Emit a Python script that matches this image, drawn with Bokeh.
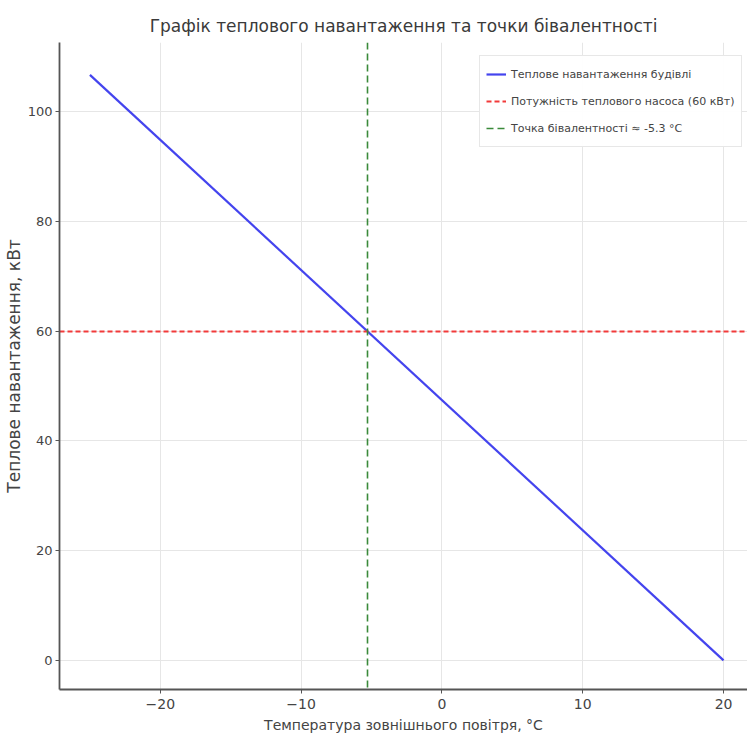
from bokeh.plotting import figure
from bokeh.models import Range1d, FixedTicker
from bokeh.embed import file_html
from bokeh.resources import INLINE

# Data
temps = [-25, 20]
loads = [106.7, 0]
hp_capacity = 60
bivalence_t = -5.3
x_ticks = [-20, -10, 0, 10, 20]
y_ticks = [0, 20, 40, 60, 80, 100]

title_txt = "Графік теплового навантаження та точки бівалентності"
xlabel = "Температура зовнішнього повітря, °С"
ylabel = "Теплове навантаження, кВт"
lbl_load = "Теплове навантаження будівлі"
lbl_hp = "Потужність теплового насоса (60 кВт)"
lbl_biv = "Точка бівалентності ≈ -5.3 °C"

FONT = "DejaVu Sans"

p = figure(width=747, height=737, output_backend="svg", toolbar_location=None,
           x_range=Range1d(-27.16, 21.70), y_range=Range1d(-5.3, 112.6),
           min_border_left=58, min_border_top=42, min_border_bottom=48, min_border_right=0)

p.title.text = title_txt
p.title.align = "center"
p.title.text_font = FONT
p.title.text_font_size = "17px"
p.title.text_font_style = "normal"
p.title.text_color = "#3a3a3a"
p.title.standoff = 14

p.line(temps, loads, line_color="#4444ee", line_width=2.2, legend_label=lbl_load)
p.hspan(y=[hp_capacity], line_color="#f23a3a", line_width=2, line_dash="5 3", legend_label=lbl_hp)
p.vspan(x=[bivalence_t], line_color="#3a8a3a", line_width=1.6, line_dash="7 4", legend_label=lbl_biv)

for ax in (p.xaxis[0], p.yaxis[0]):
    ax.axis_line_color = "#555555"
    ax.axis_line_width = 1.8
    ax.major_tick_line_color = "#555555"
    ax.major_tick_out = 4
    ax.major_tick_in = 0
    ax.minor_tick_line_color = None
    ax.major_label_text_font = FONT
    ax.major_label_text_color = "#444444"
    ax.major_label_standoff = 3
    ax.axis_label_text_font_style = "normal"
    ax.axis_label_text_color = "#444444"

p.xaxis.major_label_text_font_size = "14px"
p.xaxis.major_label_standoff = 5
p.yaxis.major_label_text_font_size = "13px"
p.xaxis.ticker = FixedTicker(ticks=x_ticks)
p.yaxis.ticker = FixedTicker(ticks=y_ticks)
p.xaxis.major_label_overrides = {t: ("−" + str(abs(t)) if t < 0 else str(t)) for t in x_ticks}
p.xaxis.axis_label = xlabel
p.xaxis.axis_label_text_font = FONT
p.xaxis.axis_label_text_font_size = "14px"
p.xaxis.axis_label_standoff = 5
p.yaxis.axis_label = ylabel
p.yaxis.axis_label_text_font = FONT
p.yaxis.axis_label_text_font_size = "17px"
p.yaxis.axis_label_standoff = 1

p.xgrid.grid_line_color = "#e6e6e6"
p.ygrid.grid_line_color = "#e6e6e6"
p.outline_line_color = None

leg = p.legend[0]
leg.location = (420, 542)
leg.margin = 0
leg.padding = 6
leg.spacing = 3
leg.label_standoff = 5
leg.label_text_font = FONT
leg.label_text_font_size = "11px"
leg.label_text_color = "#444444"
leg.border_line_color = "#d0d0d0"
leg.glyph_width = 20
leg.label_height = 24
leg.glyph_height = 24

open("out.html", "w").write(file_html(p, INLINE))
